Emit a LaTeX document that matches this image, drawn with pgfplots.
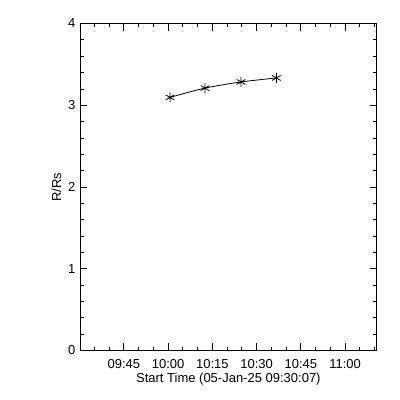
\documentclass[border=0pt]{standalone}
\usepackage{pgfplots}
\pgfplotsset{compat=1.18}
\usepackage{fontspec}
\setmainfont{Liberation Sans}
\begin{document}
\begin{tikzpicture}[x=1pt,y=1pt]
\path (0,0) rectangle (400,400);
\begin{axis}[
  at={(80pt,49.5pt)}, anchor=south west,
  scale only axis, width=296.7pt, height=327pt,
  xmin=0, xmax=100.6, ymin=0, ymax=4,
  xtick={14.883,29.883,44.883,59.883,74.883,89.883},
  xticklabels={09:45,10:00,10:15,10:30,10:45,11:00},
  minor xtick={4.883,9.883,19.883,24.883,34.883,39.883,49.883,54.883,64.883,69.883,79.883,84.883,94.883,99.883},
  ytick={0,1,2,3,4},
  minor ytick={0.2,0.4,0.6,0.8,1.2,1.4,1.6,1.8,2.2,2.4,2.6,2.8,3.2,3.4,3.6,3.8},
  tick align=inside,
  major tick length=7pt, minor tick length=3.7pt,
  tick style={black, line width=0.8pt},
  axis line style={line width=0.8pt},
  every tick label/.append style={font=\fontsize{13}{15}\selectfont},
  xticklabel style={yshift=-5pt},
  yticklabel style={xshift=-1pt},
  /pgf/number format/assume math mode=true,
  xlabel={Start Time (05-Jan-25 09:30:07)},
  ylabel={R/Rs},
  label style={font=\fontsize{13}{15}\selectfont},
  xlabel style={yshift=2pt},
  ylabel style={yshift=0pt},
  xtick pos=both, ytick pos=both,
  xticklabel pos=lower, yticklabel pos=left,
]
\addplot[black, line width=0.8pt, smooth, mark=asterisk, mark size=5pt, mark options={line width=0.8pt}] coordinates {
(30.5,3.096) (42.4,3.21) (54.6,3.285) (66.6,3.334)
};
\end{axis}
\end{tikzpicture}
\end{document}
